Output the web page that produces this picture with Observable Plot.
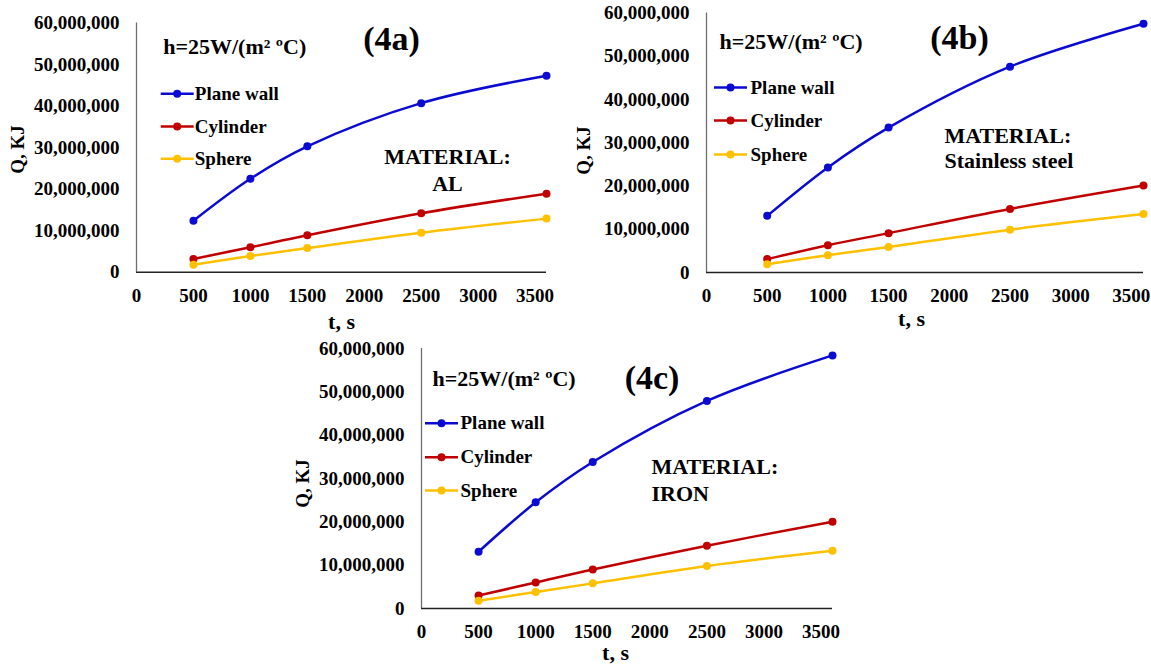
<!DOCTYPE html>
<html>
<head>
<meta charset="utf-8">
<script src="https://cdn.jsdelivr.net/npm/d3@7"></script>
<script src="https://cdn.jsdelivr.net/npm/@observablehq/plot@0.6"></script>
<style>
  html, body { margin: 0; padding: 0; background: #fff; }
  #wrap { position: relative; width: 1151px; height: 666px; overflow: hidden; background: #fff; }
  #wrap svg { position: absolute; overflow: visible; }
  #wrap svg, #wrap svg text, #wrap svg g { font-family: "Liberation Serif", "Times New Roman", "DejaVu Serif", serif !important; font-weight: bold !important; }
</style>
</head>
<body>
<div id="wrap"></div>
<script>
// ---------- data ----------
const times = [500, 1000, 1500, 2500, 3600];
const seriesNames = ["Plane wall", "Cylinder", "Sphere"];
const seriesColors = ["#0a0ad2", "#c00000", "#ffc000"];

// Panel (4a) – AL
const alPlane  = [12.4e6, 22.5e6, 30.3e6, 40.7e6, 47.3e6];
const alCyl    = [3.2e6, 6.0e6, 8.9e6, 14.2e6, 18.9e6];
const alSphere = [1.8e6, 3.9e6, 5.8e6, 9.5e6, 12.9e6];
// Panel (4b) – Stainless steel
const ssPlane  = [13.1e6, 24.3e6, 33.5e6, 47.6e6, 57.5e6];
const ssCyl    = [3.1e6, 6.3e6, 9.1e6, 14.7e6, 20.1e6];
const ssSphere = [1.9e6, 4.0e6, 5.9e6, 9.9e6, 13.5e6];
// Panel (4c) – IRON
const irPlane  = [13.1e6, 24.5e6, 33.8e6, 47.9e6, 58.4e6];
const irCyl    = [3.0e6, 6.0e6, 9.0e6, 14.5e6, 20.0e6];
const irSphere = [1.8e6, 3.8e6, 5.8e6, 9.8e6, 13.3e6];

const xTicks = [0, 500, 1000, 1500, 2000, 2500, 3000, 3500];
const yTicks = [0, 10e6, 20e6, 30e6, 40e6, 50e6, 60e6];

const panelTitles = ["(4a)", "(4b)", "(4c)"];
const hLabel = "h=25W/(m² ºC)";
const materialLabels = ["MATERIAL:\nAL", "MATERIAL:\nStainless steel", "MATERIAL:\nIRON"];
const xLabel = "t, s";
const yLabel = "Q, KJ";

const panelSeries = [
  [alPlane, alCyl, alSphere],
  [ssPlane, ssCyl, ssSphere],
  [irPlane, irCyl, irSphere]
];

// ---------- layout (positions/styles only) ----------
const FONT = "Liberation Serif";
const layouts = [
  { left: 0, top: 0, width: 575, height: 335, mL: 136, mT: 22.5, mR: 29, mB: 63.3,
    h: [26.7, 30.8], title: [255, 26.8], leg: { mx: 40.7, tx: 58.3, ys: [70.8, 103.5, 135.8] },
    mat: { dx: 311, dy: 167.5, anchor: "middle", lh: 1.21 }, ylab: [-118.5, 126.5], xlab: [205, 305.5] },
  { left: 575, top: 0, width: 576, height: 335, mL: 131, mT: 12.5, mR: 8, mB: 63,
    h: [13, 35.5], title: [253, 36], leg: { mx: 24, tx: 44, ys: [74.5, 107.5, 141.5] },
    mat: { dx: 238, dy: 154.8, anchor: "start", lh: 1.14 }, ylab: [-123, 137.5], xlab: [205, 313] },
  { left: 290, top: 335, width: 560, height: 331, mL: 131, mT: 13, mR: 18, mB: 58,
    h: [11, 37], title: [230.5, 40], leg: { mx: 20, tx: 39, ys: [74.7, 108.7, 142] },
    mat: { dx: 230, dy: 152, anchor: "start", lh: 1.2 }, ylab: [-118.5, 135], xlab: [194, 311] }
];

const lineSymbol = {
  draw(ctx) { ctx.moveTo(-16.5, 0); ctx.lineTo(16.5, 0); }
};

function makePanel(i) {
  const L = layouts[i];
  const rows = [];
  seriesNames.forEach((name, s) => {
    times.forEach((t, k) => rows.push({ t, q: panelSeries[i][s][k], series: name }));
  });

  const txt = { fontFamily: FONT, fontWeight: "bold", fill: "#000" };

  const legendMarks = seriesNames.flatMap((name, s) => [
    Plot.dot([name], { frameAnchor: "top-left", dx: L.leg.mx, dy: L.leg.ys[s],
      symbol: lineSymbol, fill: "none", stroke: seriesColors[s], strokeWidth: 2.5 }),
    Plot.dot([name], { frameAnchor: "top-left", dx: L.leg.mx, dy: L.leg.ys[s],
      r: 4, fill: seriesColors[s], stroke: "none" }),
    Plot.text([name], { ...txt, frameAnchor: "top-left", dx: L.leg.tx, dy: L.leg.ys[s], text: d => d,
      textAnchor: "start", lineAnchor: "middle", fontSize: 19 })
  ]);

  const svg = Plot.plot({
    width: L.width, height: L.height,
    marginLeft: L.mL, marginTop: L.mT, marginRight: L.mR, marginBottom: L.mB,
    x: { domain: [0, 3600] },
    y: { domain: [0, 60e6] },
    color: { domain: seriesNames, range: seriesColors },
    style: { fontFamily: FONT, fontWeight: "bold", fontSize: "19px", color: "#000", background: "transparent" },
    marks: [
      Plot.axisX({ ...txt, ticks: xTicks, tickSize: 0, tickPadding: 16, tickFormat: d3.format("d"), label: null,
        fontSize: 19 }),
      Plot.axisY({ ...txt, ticks: yTicks, tickSize: 0, tickPadding: 17, tickFormat: d3.format(","), label: null,
        fontSize: 19 }),
      Plot.ruleX([0], { stroke: "#6e6e6e", strokeWidth: 1.3 }),
      Plot.ruleY([0], { stroke: "#222", strokeWidth: 1.5 }),
      Plot.line(rows, { x: "t", y: "q", z: "series", stroke: "series", strokeWidth: 2.5, curve: "catmull-rom" }),
      Plot.dot(rows, { x: "t", y: "q", fill: "series", r: 4 }),
      ...legendMarks,
      Plot.text([hLabel], { ...txt, frameAnchor: "top-left", dx: L.h[0], dy: L.h[1], text: d => d,
        textAnchor: "start", lineAnchor: "bottom", fontSize: 22 }),
      Plot.text([panelTitles[i]], { ...txt, frameAnchor: "top-left", dx: L.title[0], dy: L.title[1], text: d => d,
        textAnchor: "middle", lineAnchor: "bottom", fontSize: 34 }),
      Plot.text([materialLabels[i]], { ...txt, frameAnchor: "top-left", dx: L.mat.dx, dy: L.mat.dy, text: d => d,
        textAnchor: L.mat.anchor, lineAnchor: "bottom", lineHeight: L.mat.lh, fontSize: 22 }),
      Plot.text([yLabel], { ...txt, frameAnchor: "top-left", dx: L.ylab[0], dy: L.ylab[1], text: d => d, rotate: -90,
        textAnchor: "middle", lineAnchor: "middle", fontSize: 19 }),
      Plot.text([xLabel], { ...txt, frameAnchor: "top-left", dx: L.xlab[0], dy: L.xlab[1], text: d => d,
        textAnchor: "middle", lineAnchor: "bottom", fontSize: 22 })
    ]
  });
  svg.style.left = L.left + "px";
  svg.style.top = L.top + "px";
  return svg;
}

const wrap = document.getElementById("wrap");
[0, 1, 2].forEach(i => wrap.appendChild(makePanel(i)));
</script>
</body>
</html>
